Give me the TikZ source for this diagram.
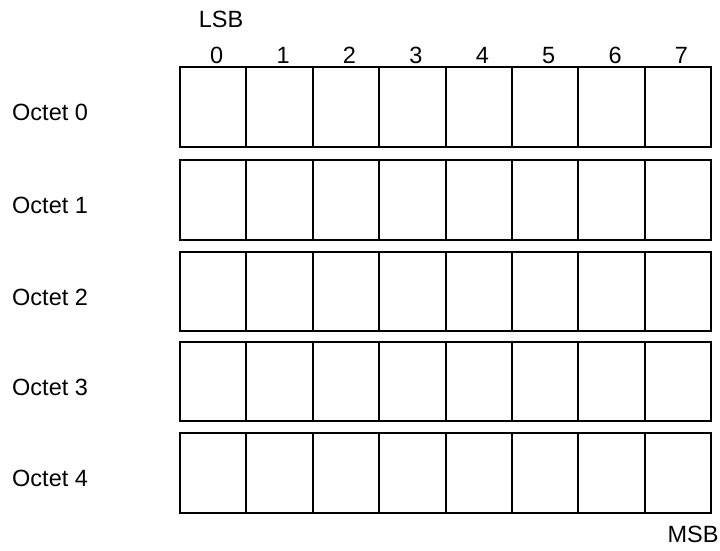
\documentclass[tikz,border=0pt]{standalone}
\usepackage{fontspec}
\setmainfont{Liberation Sans}
\begin{document}
\begin{tikzpicture}[x=1pt,y=-1pt,
  cell/.style={draw,line width=2pt,minimum width=66.4pt,minimum height=79.5pt,inner sep=0pt},
  lbl/.style={inner sep=0pt,anchor=base,font=\fontsize{23.5}{26}\selectfont},
  rowlbl/.style={lbl,anchor=base west}]
\useasboundingbox (0,0) rectangle (720,550);
\foreach \r/\t in {0/67,1/160,2/251.5,3/341.5,4/433}{
  \foreach \b in {0,...,7}{
    \node[cell] (c\r-\b) at ({180+33.2+66.4*\b},{\t+39.75}) {};
  }
  \node[rowlbl] (oct\r) at (12,{\t+39.75+14}) {Octet \r};
}
\foreach \b in {0,...,7}{
  \node[lbl] (bit\b) at ({180+33.2+66.4*\b+3.5},63) {\b};
}
\node[lbl] (lsb) at (221,27) {LSB};
\node[lbl] (msb) at (693,542) {MSB};
\end{tikzpicture}
\end{document}
